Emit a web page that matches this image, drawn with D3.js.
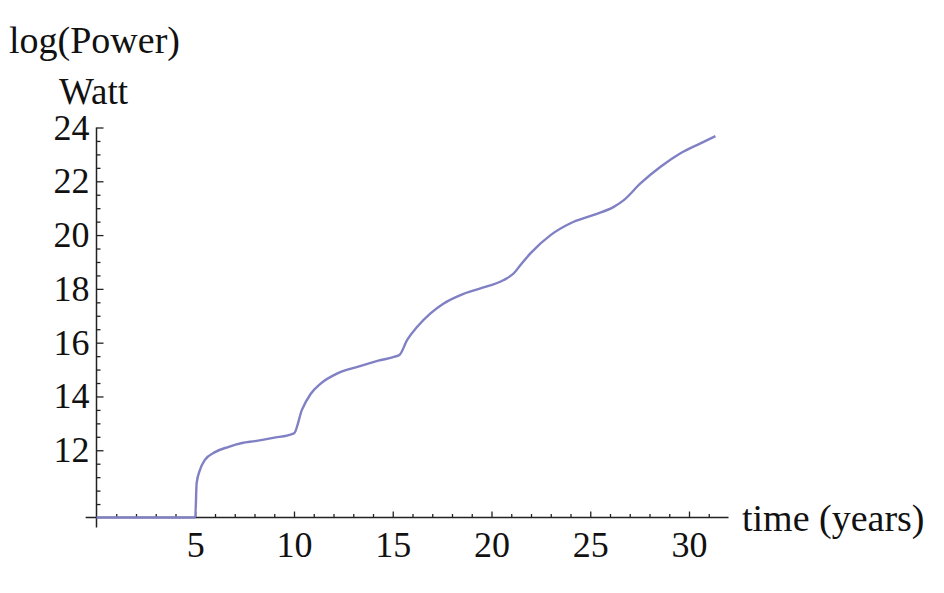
<!DOCTYPE html>
<html><head><meta charset="utf-8">
<script src="https://cdn.jsdelivr.net/npm/d3@7"></script>
<style>
body{margin:0;background:#fff;}
svg{display:block;}
text{font-family:"Liberation Serif","Times New Roman",serif;fill:#111;}
</style></head>
<body>
<svg id="c" width="944" height="593"></svg>
<script>
// data
const timeYears = [0, 2, 4.99, 5.0, 5.07, 5.24, 5.49, 6.0, 6.66, 7.37, 8.03, 8.94, 10.0, 10.4, 10.85, 11.35, 12.2, 13.26, 14.27, 15.1, 15.35, 15.73, 16.24, 16.91, 17.58, 18.43, 19.44, 20.62, 21.13, 21.47, 21.97, 22.99, 24.0, 25.18, 26.19, 26.7, 27.54, 28.56, 29.57, 30.58, 31.34];
const logPower = [9.5, 9.5, 9.5, 9.5, 10.78, 11.27, 11.64, 11.93, 12.12, 12.27, 12.34, 12.46, 12.63, 13.5, 14.1, 14.48, 14.86, 15.11, 15.33, 15.48, 15.55, 16.10, 16.59, 17.09, 17.46, 17.77, 18.02, 18.33, 18.58, 18.89, 19.32, 20.0, 20.44, 20.75, 21.05, 21.3, 21.92, 22.54, 23.04, 23.41, 23.68];
const xMajorTicks = [5, 10, 15, 20, 25, 30];
const yMajorTicks = [12, 14, 16, 18, 20, 22, 24];
const xLabel = "time (years)";
const yLabel1 = "log(Power)";
const yLabel2 = "Watt";

const svg = d3.select("#c");
const x = d3.scaleLinear().domain([0, 32]).range([96.5, 728.5]);
const y = d3.scaleLinear().domain([9.5, 24]).range([517.5, 127.5]);

const xMinor = d3.range(1, 32).filter(v => v % 5 !== 0);
const yMinor = d3.range(10, 24, 0.5).filter(v => !(v >= 12 && v % 2 === 0));

const axCol = "#222";
// axis lines
svg.append("line").attr("x1", x(-0.55)).attr("x2", x(32)).attr("y1", y(9.5)).attr("y2", y(9.5))
  .attr("stroke", axCol).attr("stroke-width", 1.5);
svg.append("line").attr("x1", x(0)).attr("x2", x(0)).attr("y1", y(9.13)).attr("y2", y(24))
  .attr("stroke", axCol).attr("stroke-width", 1.5);

// x axis ticks
const gx = svg.append("g").attr("transform", `translate(0,${y(9.5)})`);
gx.call(d3.axisBottom(x).tickValues(xMajorTicks).tickSizeInner(-6).tickSizeOuter(0).tickPadding(14).tickFormat(d3.format("d")));
gx.append("g").call(d3.axisBottom(x).tickValues(xMinor).tickSizeInner(-3.5).tickSizeOuter(0).tickFormat(""));
gx.selectAll(".domain").remove();
gx.selectAll("line").attr("stroke", axCol).attr("stroke-width", 1.3);
gx.selectAll("text").attr("font-size", 36).attr("font-family", "Liberation Serif").attr("fill", "#111");

// y axis ticks
const gy = svg.append("g").attr("transform", `translate(${x(0)},0)`);
gy.call(d3.axisLeft(y).tickValues(yMajorTicks).tickSizeInner(-7).tickSizeOuter(0).tickPadding(7).tickFormat(d3.format("d")));
gy.append("g").call(d3.axisLeft(y).tickValues(yMinor).tickSizeInner(-4).tickSizeOuter(0).tickFormat(""));
gy.selectAll(".domain").remove();
gy.selectAll("line").attr("stroke", axCol).attr("stroke-width", 1.3);
gy.selectAll("text").attr("font-size", 36).attr("font-family", "Liberation Serif").attr("fill", "#111");

// curve
const pts = timeYears.map((t, i) => [t, logPower[i]]);
svg.append("path").datum(pts)
  .attr("d", d3.line().x(d => x(d[0])).y(d => y(d[1])).curve(d3.curveMonotoneX))
  .attr("fill", "none").attr("stroke", "#8080c4").attr("stroke-width", 2.4);

// labels
svg.append("text").attr("x", 742).attr("y", 531).attr("font-size", 38).text(xLabel);
svg.append("text").attr("x", 9).attr("y", 53).attr("font-size", 38).text(yLabel1);
svg.append("text").attr("x", 59).attr("y", 104).attr("font-size", 37).text(yLabel2);
</script>
</body></html>
